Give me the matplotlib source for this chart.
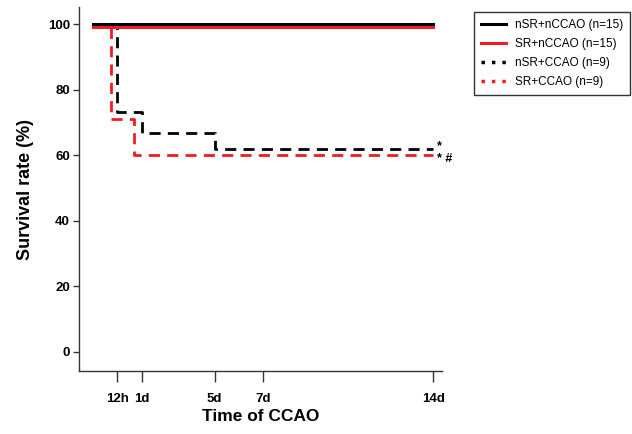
from __future__ import annotations

import matplotlib as mpl
import matplotlib.pyplot as plt
from matplotlib.lines import Line2D

mpl.rcParams["font.family"] = ["Liberation Sans", "DejaVu Sans"]

OUT_PNG = "out.png"

# x positions on the time axis (12h, 1d, 5d, 7d, 14d)
TICK_POS = [1, 2, 5, 7, 14]
TICK_LABELS = ["12h", "1d", "5d", "7d", "14d"]
Y_TICKS = [0, 20, 40, 60, 80, 100]

# survival curves (step, post)
NSR_NCCAO_T = [0, 14]
NSR_NCCAO_Y = [100, 100]
SR_NCCAO_T = [0, 14]
SR_NCCAO_Y = [99, 99]
NSR_CCAO_T = [0, 1, 2, 5, 14]
NSR_CCAO_Y = [100, 73.3, 66.7, 62, 62]
SR_CCAO_T = [0, 0.75, 1.7, 14]
SR_CCAO_Y = [99, 71, 60, 60]

LEGEND_LABELS = ["nSR+nCCAO (n=15)", "SR+nCCAO (n=15)", "nSR+CCAO (n=9)", "SR+CCAO (n=9)"]
MARKS = [(14.15, 62.8, "*"), (14.15, 58.8, "* #")]

RED = "#ee1c24"
AXIS_GRAY = "#333333"


def main() -> None:
    fig = plt.figure(figsize=(6.32, 4.34), dpi=100)
    ax = fig.add_axes([79 / 632, 63 / 434, 363 / 632, 364 / 434])

    dash = (0, (4, 2.6))
    ax.step(NSR_NCCAO_T, NSR_NCCAO_Y, where="post", color="black", lw=2.2, zorder=3)
    ax.step(SR_NCCAO_T, SR_NCCAO_Y, where="post", color=RED, lw=2.2, zorder=3)
    ax.step(NSR_CCAO_T, NSR_CCAO_Y, where="post", color="black", lw=2.0, linestyle=dash, zorder=2)
    ax.step(SR_CCAO_T, SR_CCAO_Y, where="post", color=RED, lw=2.0, linestyle=dash, zorder=2)

    for x, y, s in MARKS:
        ax.text(x, y, s, fontsize=9, fontweight="bold", ha="left", va="center")

    ax.set_xlim(-0.58, 14.36)
    ax.set_ylim(-5.8, 105.2)
    ax.set_xticks(TICK_POS)
    ax.set_xticklabels(TICK_LABELS)
    ax.set_yticks(Y_TICKS)
    for lab in ax.get_xticklabels() + ax.get_yticklabels():
        lab.set_fontweight("bold")
        lab.set_fontsize(9.5)
    ax.tick_params(axis="x", length=8, width=1, color=AXIS_GRAY, pad=8)
    ax.tick_params(axis="y", length=4.5, width=1, color=AXIS_GRAY, pad=2)

    ax.spines["top"].set_visible(False)
    ax.spines["right"].set_visible(False)
    for side in ("left", "bottom"):
        ax.spines[side].set_color(AXIS_GRAY)
        ax.spines[side].set_linewidth(1)

    ax.set_xlabel("Time of CCAO", fontsize=12.5, fontweight="bold", labelpad=3)
    ax.set_ylabel("Survival rate (%)", fontsize=13, fontweight="bold", labelpad=10)

    dots = (0, (1, 2))
    handles = [
        Line2D([], [], color="black", lw=2.2),
        Line2D([], [], color=RED, lw=2.2),
        Line2D([], [], color="black", lw=2.5, linestyle=dots),
        Line2D([], [], color=RED, lw=2.5, linestyle=dots),
    ]
    leg = fig.legend(
        handles,
        LEGEND_LABELS,
        loc="upper left",
        bbox_to_anchor=(474 / 632, 1 - 12 / 434),
        fontsize=8.5,
        frameon=True,
        fancybox=False,
        handlelength=2.1,
        handletextpad=0.75,
        labelspacing=0.6,
        borderpad=0.6,
        borderaxespad=0,
    )
    leg.get_frame().set_edgecolor("black")
    leg.get_frame().set_linewidth(1)

    fig.savefig(OUT_PNG, dpi=100)
    plt.close(fig)


if __name__ == "__main__":
    main()
